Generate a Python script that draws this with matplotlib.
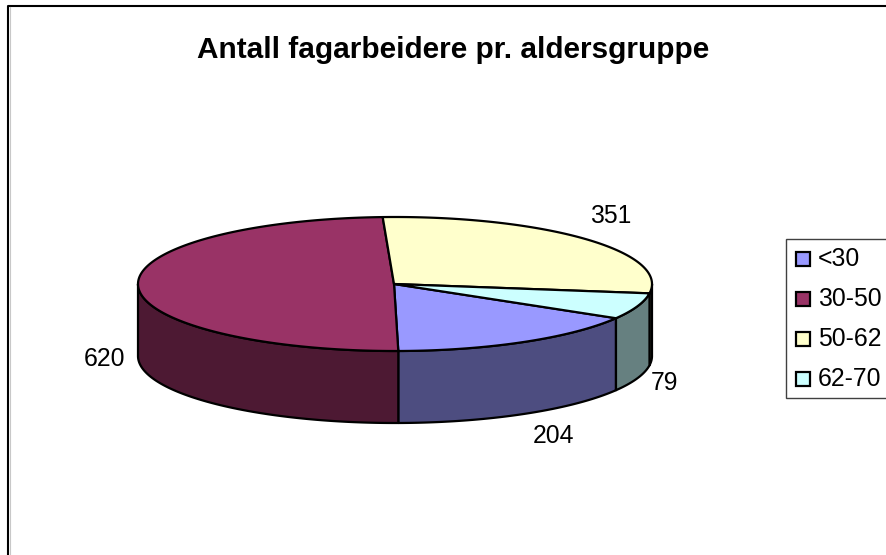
import numpy as np
import matplotlib
matplotlib.use("Agg")
import matplotlib.pyplot as plt
from matplotlib.patches import Polygon, Rectangle

plt.rcParams['font.family'] = ['Liberation Sans', 'DejaVu Sans']

title = "Antall fagarbeidere pr. aldersgruppe"
categories = ["<30", "30-50", "50-62", "62-70"]
values = [204, 620, 351, 79]
top_colors = ["#9999FF", "#993366", "#FFFFCC", "#CCFFFF"]
side_colors = ["#4D4D80", "#4D1933", "#808066", "#668080"]

# pie geometry in image pixels
cx, cy = 395, 284
rx, ry = 257, 67
depth = 72
start_angle = 329.3  # slices run clockwise from here


def ellipse_points(a0, a1, dy=0):
    # a0, a1 in degrees, y axis points down so flip the sine
    t = np.radians(np.linspace(a0, a1, 200))
    return np.column_stack([cx + rx * np.cos(t), cy + dy - ry * np.sin(t)])


fig = plt.figure(figsize=(8.86, 5.55), dpi=100)
ax = fig.add_axes([0, 0, 1, 1])
ax.set_xlim(0, 886)
ax.set_ylim(555, 0)
ax.axis('off')

# chart frame
ax.plot([8, 8, 890], [560, 6, 6], color='black', lw=1.5, solid_capstyle='butt')
ax.plot([10, 10], [7, 560], color='#c8c8c8', lw=0.8)

sweeps = np.array(values) / sum(values) * 360
ends = start_angle - np.cumsum(sweeps)
starts = ends + sweeps

# side walls, only the front half of the cylinder shows
for a0, a1, c in zip(starts, ends, side_colors):
    for shift in (0, -360):
        lo = max(a1 + shift, -180)
        hi = min(a0 + shift, 0)
        if hi <= lo:
            continue
        upper = ellipse_points(hi, lo)
        lower = ellipse_points(lo, hi, dy=depth)
        ax.add_patch(Polygon(np.vstack([upper, lower]), closed=True, fc=c,
                             ec='black', lw=1.6, joinstyle='round'))

# top face
for a0, a1, c in zip(starts, ends, top_colors):
    arc = ellipse_points(a0, a1)
    ax.add_patch(Polygon(np.vstack([[cx - 1, cy], arc]), closed=True, fc=c,
                         ec='black', lw=1.6, joinstyle='round'))

# value labels
label_pos = [(554, 436), (105, 359), (611, 216), (664, 383)]
for v, (x, y) in zip(values, label_pos):
    ax.text(x, y, str(v), ha='center', va='center', fontsize=17.8)

ax.text(453.5, 50.5, title, ha='center', va='center', fontsize=21.4, fontweight='bold')

# legend
ax.add_patch(Rectangle((786.5, 238.5), 110, 159.5, fc='white', ec='#404040', lw=1))
for i, (name, c) in enumerate(zip(categories, top_colors)):
    y = 259 + i * 40
    ax.add_patch(Rectangle((796, y - 7), 14, 14, fc=c, ec='black', lw=1.6))
    ax.text(818, y + 0.5, name, ha='left', va='center', fontsize=17.8)

fig.savefig("out.png", dpi=100)
